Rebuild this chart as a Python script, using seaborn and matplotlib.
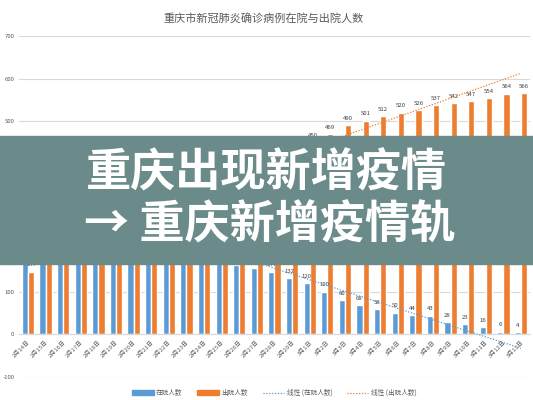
import numpy as np
import pandas as pd
import matplotlib.pyplot as plt
import seaborn as sns
from matplotlib.patches import Patch, Rectangle
from matplotlib.lines import Line2D

# 日期（2020年2月14日 - 3月13日）
dates = ['2月14日', '2月15日', '2月16日', '2月17日', '2月18日', '2月19日', '2月20日',
         '2月21日', '2月22日', '2月23日', '2月24日', '2月25日', '2月26日', '2月27日',
         '2月28日', '2月29日', '3月1日', '3月2日', '3月3日', '3月4日', '3月5日',
         '3月6日', '3月7日', '3月8日', '3月9日', '3月10日', '3月11日', '3月12日', '3月13日']

# 在院人数（二月部分被横幅遮住，按趋势估计）
in_hospital = [391, 364, 340, 316, 290, 270, 252, 235, 218, 203, 188, 175, 163, 155,
               147, 132, 120, 100, 80, 68, 58, 50, 44, 43, 28, 23, 16, 6, 4]
# 出院人数
discharged = [147, 176, 200, 225, 252, 275, 295, 317, 340, 360, 378, 392, 405, 415,
              423, 438, 450, 469, 490, 501, 512, 520, 526, 537, 542, 547, 554, 564, 566]

series_names = ['在院人数', '出院人数']
trend_names = ['线性 (在院人数)', '线性 (出院人数)']
title = '重庆市新冠肺炎确诊病例在院与出院人数'
banner_lines = ['重庆出现新增疫情', '→ 重庆新增疫情轨']

BLUE = '#5B9BD5'
ORANGE = '#ED7D31'
GRAY = '#595959'

if __name__ == '__main__':
    sns.set_style('white')
    plt.rcParams['font.family'] = ['Noto Sans CJK SC', 'DejaVu Sans']
    plt.rcParams['axes.unicode_minus'] = False

    df = pd.DataFrame({
        '日期': dates * 2,
        '人数': in_hospital + discharged,
        '类型': [series_names[0]] * len(dates) + [series_names[1]] * len(dates),
    })

    fig = plt.figure(figsize=(5.33, 4.0), dpi=100)
    ax = fig.add_axes([0.036, 0.058, 0.958, 0.852])

    sns.barplot(data=df, x='日期', y='人数', hue='类型', palette=[BLUE, ORANGE],
                width=0.7, saturation=1, legend=False, ax=ax, zorder=2)

    # 数据标签
    for cont in ax.containers:
        ax.bar_label(cont, fontsize=4.3, padding=3.2, color='#404040')

    # 线性趋势线
    xs = np.arange(len(dates))
    sns.regplot(x=xs, y=np.array(in_hospital), scatter=False, ci=None, ax=ax,
                line_kws=dict(color=BLUE, ls=(0, (1, 1.3)), lw=0.9, zorder=3))
    sns.regplot(x=xs, y=np.array(discharged), scatter=False, ci=None, ax=ax,
                line_kws=dict(color=ORANGE, ls=(0, (1, 1.3)), lw=0.9, zorder=3))

    ax.set_xlabel('')
    ax.set_ylabel('')
    ax.set_xlim(-0.5, len(dates) - 0.5)
    ax.set_ylim(-100, 700)
    ax.set_yticks(range(-100, 701, 100))

    # 坐标轴样式（类似Excel）
    for s in ['top', 'right', 'left']:
        ax.spines[s].set_visible(False)
    ax.spines['bottom'].set_position(('data', 0))
    ax.spines['bottom'].set_color('#d9d9d9')
    ax.spines['bottom'].set_linewidth(0.8)
    ax.yaxis.grid(True, color='#d9d9d9', lw=0.8)
    ax.set_axisbelow(True)

    ax.set_xticks(xs)
    ax.set_xticklabels(dates, rotation=45, ha='right', rotation_mode='anchor')
    ax.set_xticks(np.arange(-0.5, len(dates), 1), minor=True)
    ax.tick_params(axis='x', which='major', length=0, labelsize=4.3,
                   labelcolor=GRAY, pad=4)
    ax.tick_params(axis='x', which='minor', length=3, color='#d9d9d9', width=0.7)
    ax.tick_params(axis='y', length=0, labelsize=4.3, labelcolor=GRAY, pad=3.5)

    fig.text(0.494, 0.953, title, ha='center', va='center', fontsize=8, color=GRAY)

    # 图例
    handles = [
        Patch(color=BLUE), Patch(color=ORANGE),
        Line2D([], [], color=BLUE, ls=(0, (1, 1.3)), lw=0.9),
        Line2D([], [], color=ORANGE, ls=(0, (1, 1.3)), lw=0.9),
    ]
    fig.legend(handles, series_names + trend_names, loc='center', ncol=4,
               bbox_to_anchor=(0.515, 0.018), frameon=False, fontsize=4.8,
               handlelength=3.2, handleheight=0.6, columnspacing=2.2,
               handletextpad=0.4, labelcolor=GRAY)

    # 横幅
    fig.add_artist(Rectangle((0, 1 - 264 / 400), 1, 128 / 400,
                             transform=fig.transFigure, color='#6b8a8a', zorder=10))
    fig.text(86 / 533, 1 - 174 / 400, banner_lines[0], ha='left', va='center',
             fontsize=32.5, fontweight='heavy', color='white', zorder=11)
    fig.text(84 / 533, 1 - 226 / 400, banner_lines[1], ha='left', va='center',
             fontsize=32.5, fontweight='heavy', color='white', zorder=11)

    plt.savefig('out.png', dpi=100)
